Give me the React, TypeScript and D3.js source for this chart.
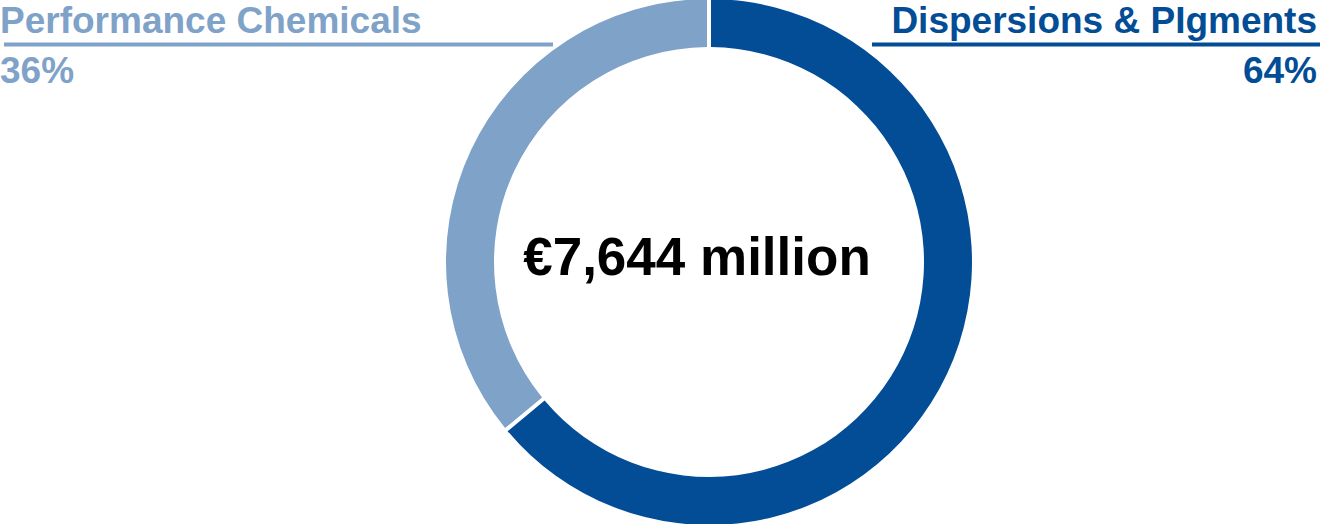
import { useEffect, useRef } from 'react'
import * as d3 from 'd3'

// segment data (share of sales, %)
const SEGMENTS = ['Dispersions & PIgments', 'Performance Chemicals']
const SHARES = [64, 36]
const COLORS = ['#034d96', '#7fa2c8']
const TOTAL_LABEL = '€7,644 million'

const W = 1320
const H = 524

export default function App(): JSX.Element {
  const ref = useRef<SVGSVGElement>(null)

  useEffect(() => {
    const el = ref.current
    if (!el) return
    const svg = d3.select(el)
    svg.selectAll('*').remove()

    const cx = 709, cy = 262
    const outerR = 263, innerR = 215
    const font = '"Liberation Sans", Arial, sans-serif'

    const pie = d3.pie<number>().sort(null).value(d => d)
    const arcs = pie(SHARES)
    const arc = d3.arc<d3.PieArcDatum<number>>()
      .innerRadius(innerR)
      .outerRadius(outerR)
      .padAngle(4 / outerR)
      .padRadius(outerR)

    const g = svg.append('g').attr('transform', `translate(${cx},${cy})`)
    g.selectAll('path')
      .data(arcs)
      .enter()
      .append('path')
      .attr('d', arc)
      .attr('fill', (_, i) => COLORS[i])

    // centre total
    svg.append('text')
      .attr('x', 697)
      .attr('y', 275)
      .attr('text-anchor', 'middle')
      .attr('font-family', font)
      .attr('font-weight', 'bold')
      .attr('font-size', 53)
      .attr('fill', '#000')
      .text(TOTAL_LABEL)

    // labels: left = Performance Chemicals, right = Dispersions & Pigments
    const labels = [
      { i: 1, anchor: 'start', tx: 0, x1: 4, x2: 553 },
      { i: 0, anchor: 'end', tx: 1317, x1: 872, x2: 1320 },
    ]
    labels.forEach(l => {
      svg.append('text')
        .attr('x', l.tx)
        .attr('y', 33)
        .attr('text-anchor', l.anchor)
        .attr('font-family', font)
        .attr('font-weight', 'bold')
        .attr('font-size', 37)
        .attr('fill', COLORS[l.i])
        .text(SEGMENTS[l.i])
      svg.append('line')
        .attr('x1', l.x1)
        .attr('x2', l.x2)
        .attr('y1', 44.5)
        .attr('y2', 44.5)
        .attr('stroke', COLORS[l.i])
        .attr('stroke-width', 4)
      svg.append('text')
        .attr('x', l.tx)
        .attr('y', 83)
        .attr('text-anchor', l.anchor)
        .attr('font-family', font)
        .attr('font-weight', 'bold')
        .attr('font-size', 37)
        .attr('fill', COLORS[l.i])
        .text(`${SHARES[l.i]}%`)
    })
  }, [])

  return (
    <svg
      ref={ref}
      width={W}
      height={H}
      viewBox={`0 0 ${W} ${H}`}
      style={{ position: 'absolute', left: 0, top: 0, background: '#fff' }}
    />
  )
}
